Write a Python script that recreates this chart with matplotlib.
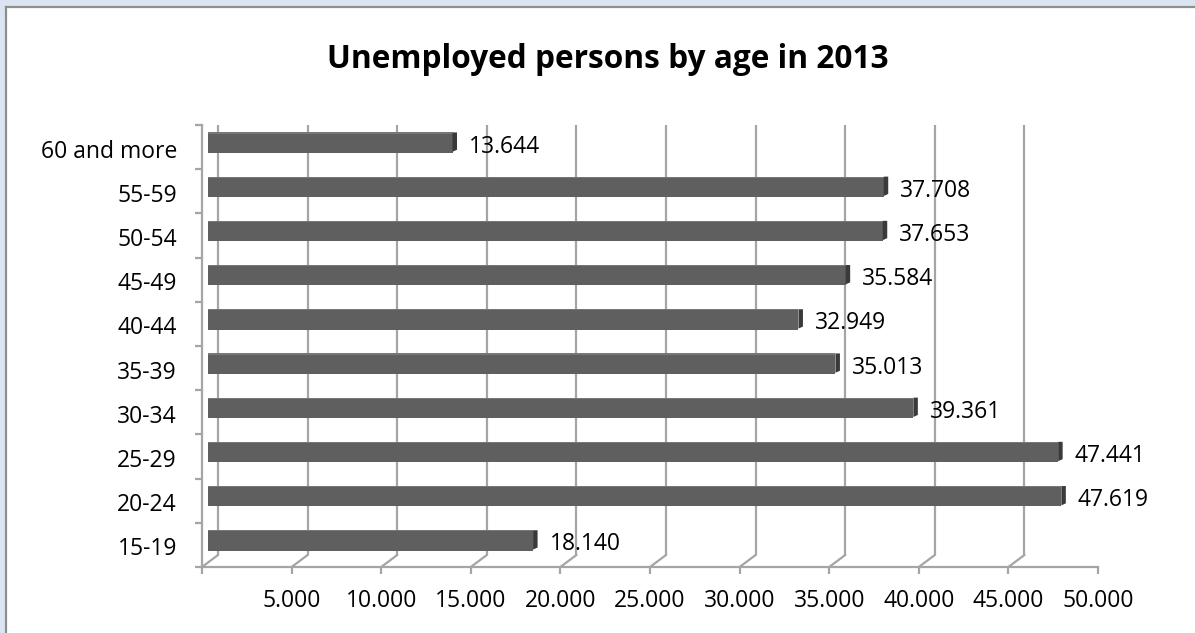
import numpy as np
import matplotlib
matplotlib.use('Agg')
import matplotlib.pyplot as plt
from matplotlib.patches import Rectangle, Polygon
from matplotlib.lines import Line2D

plt.rcParams['font.family'] = ['Open Sans', 'DejaVu Sans']

# Unemployed persons per age group, bottom to top
age_groups = ['15-19', '20-24', '25-29', '30-34', '35-39',
              '40-44', '45-49', '50-54', '55-59', '60 and more']
unemployed = [18140, 47619, 47441, 39361, 35013,
              32949, 35584, 37653, 37708, 13644]
x_ticks = [0, 5000, 10000, 15000, 20000, 25000, 30000, 35000, 40000, 45000, 50000]


def dotted(n):
    return f"{n:,}".replace(',', '.')


W, H = 1195, 633
fig = plt.figure(figsize=(W / 100, H / 100), dpi=100)
fig.patch.set_facecolor('white')

# light blue frame strip + grey chart border
fig.patches.append(Rectangle((0, 0), 6 / W, 1, transform=fig.transFigure,
                             facecolor='#dbe5f1', edgecolor='none'))
fig.patches.append(Rectangle((0, 1 - 6 / H), 1, 6 / H, transform=fig.transFigure,
                             facecolor='#dbe5f1', edgecolor='none'))
fig.lines.append(Line2D([6.5 / W, 6.5 / W], [0, 1 - 6.5 / H], transform=fig.transFigure,
                        color='#8e8e8e', lw=1.6))
fig.lines.append(Line2D([6.5 / W, 1], [1 - 6.5 / H, 1 - 6.5 / H], transform=fig.transFigure,
                        color='#8e8e8e', lw=1.6))

# front plane of the 3d box
ax_l, ax_b, ax_w, ax_h = 202, 66, 896, 442
ax = fig.add_axes([ax_l / W, ax_b / H, ax_w / W, ax_h / H])
ax.set_xlim(0, 50000)
ax.set_ylim(0, 10)
ax.patch.set_visible(False)

px_x = 50000 / ax_w
px_y = 10 / ax_h
depth_x, depth_y = 16 * px_x, 12 * px_y
grid_c = '#a5a5a5'

# back wall gridlines and floor diagonals
for xt in x_ticks:
    ax.plot([xt + depth_x, xt + depth_x], [depth_y, 10 + depth_y], color=grid_c, lw=1.6,
            zorder=1, solid_capstyle='butt')
    ax.plot([xt, xt + depth_x], [0, depth_y], color=grid_c, lw=1.6, zorder=1)
# left wall top edge
ax.plot([0, depth_x], [10, 10 + depth_y], color=grid_c, lw=1.6, zorder=1)

# bars sit half way into the box
off_x, off_y = 6 * px_x, 4.5 * px_y
bar_h = 0.46
cap_w = 4.5 * px_x
for i, v in enumerate(unemployed):
    yc = i + 0.5 + off_y
    y0, y1 = yc - bar_h / 2, yc + bar_h / 2
    ax.add_patch(Rectangle((off_x, y0), v, bar_h, facecolor='#5f5f5f',
                           edgecolor='none', zorder=3))
    ax.add_patch(Rectangle((off_x, y1 - 1.2 * px_y), v, 1.2 * px_y, facecolor='#777777',
                           edgecolor='none', zorder=3))
    xe = off_x + v
    ax.add_patch(Polygon([(xe, y0 + 1 * px_y), (xe + cap_w, y0 + 3 * px_y),
                          (xe + cap_w, y1), (xe, y1)],
                         closed=True, facecolor='#3a3a3a', edgecolor='none', zorder=3))
    ax.text(xe + cap_w + 12 * px_x, yc - 4 * px_y, dotted(v), ha='left', va='center',
            fontsize=16.5, color='black', zorder=4)

# axes: front left edge and floor front edge
for side in ['top', 'right']:
    ax.spines[side].set_visible(False)
for side in ['left', 'bottom']:
    ax.spines[side].set_color(grid_c)
    ax.spines[side].set_linewidth(1.6)

ax.set_xticks(x_ticks)
ax.set_xticklabels([''] + [dotted(t) for t in x_ticks[1:]])
ax.tick_params(axis='x', length=5, width=1.6, color=grid_c, pad=11,
               labelsize=16.5, labelcolor='black')

ax.set_yticks(np.arange(10) + 0.5 - 1.5 * px_y)
ax.set_yticklabels(age_groups)
ax.tick_params(axis='y', which='major', length=0, pad=18, labelsize=16.5,
               labelcolor='black')
ax.set_yticks(np.arange(11), minor=True)
ax.tick_params(axis='y', which='minor', length=5, width=1.6, color=grid_c)

fig.text(608 / W, 1 - 60 / H, 'Unemployed persons by age in 2013', ha='center', va='center',
         fontsize=22.8, fontweight='bold', color='black')

fig.savefig('out.png', dpi=100)
